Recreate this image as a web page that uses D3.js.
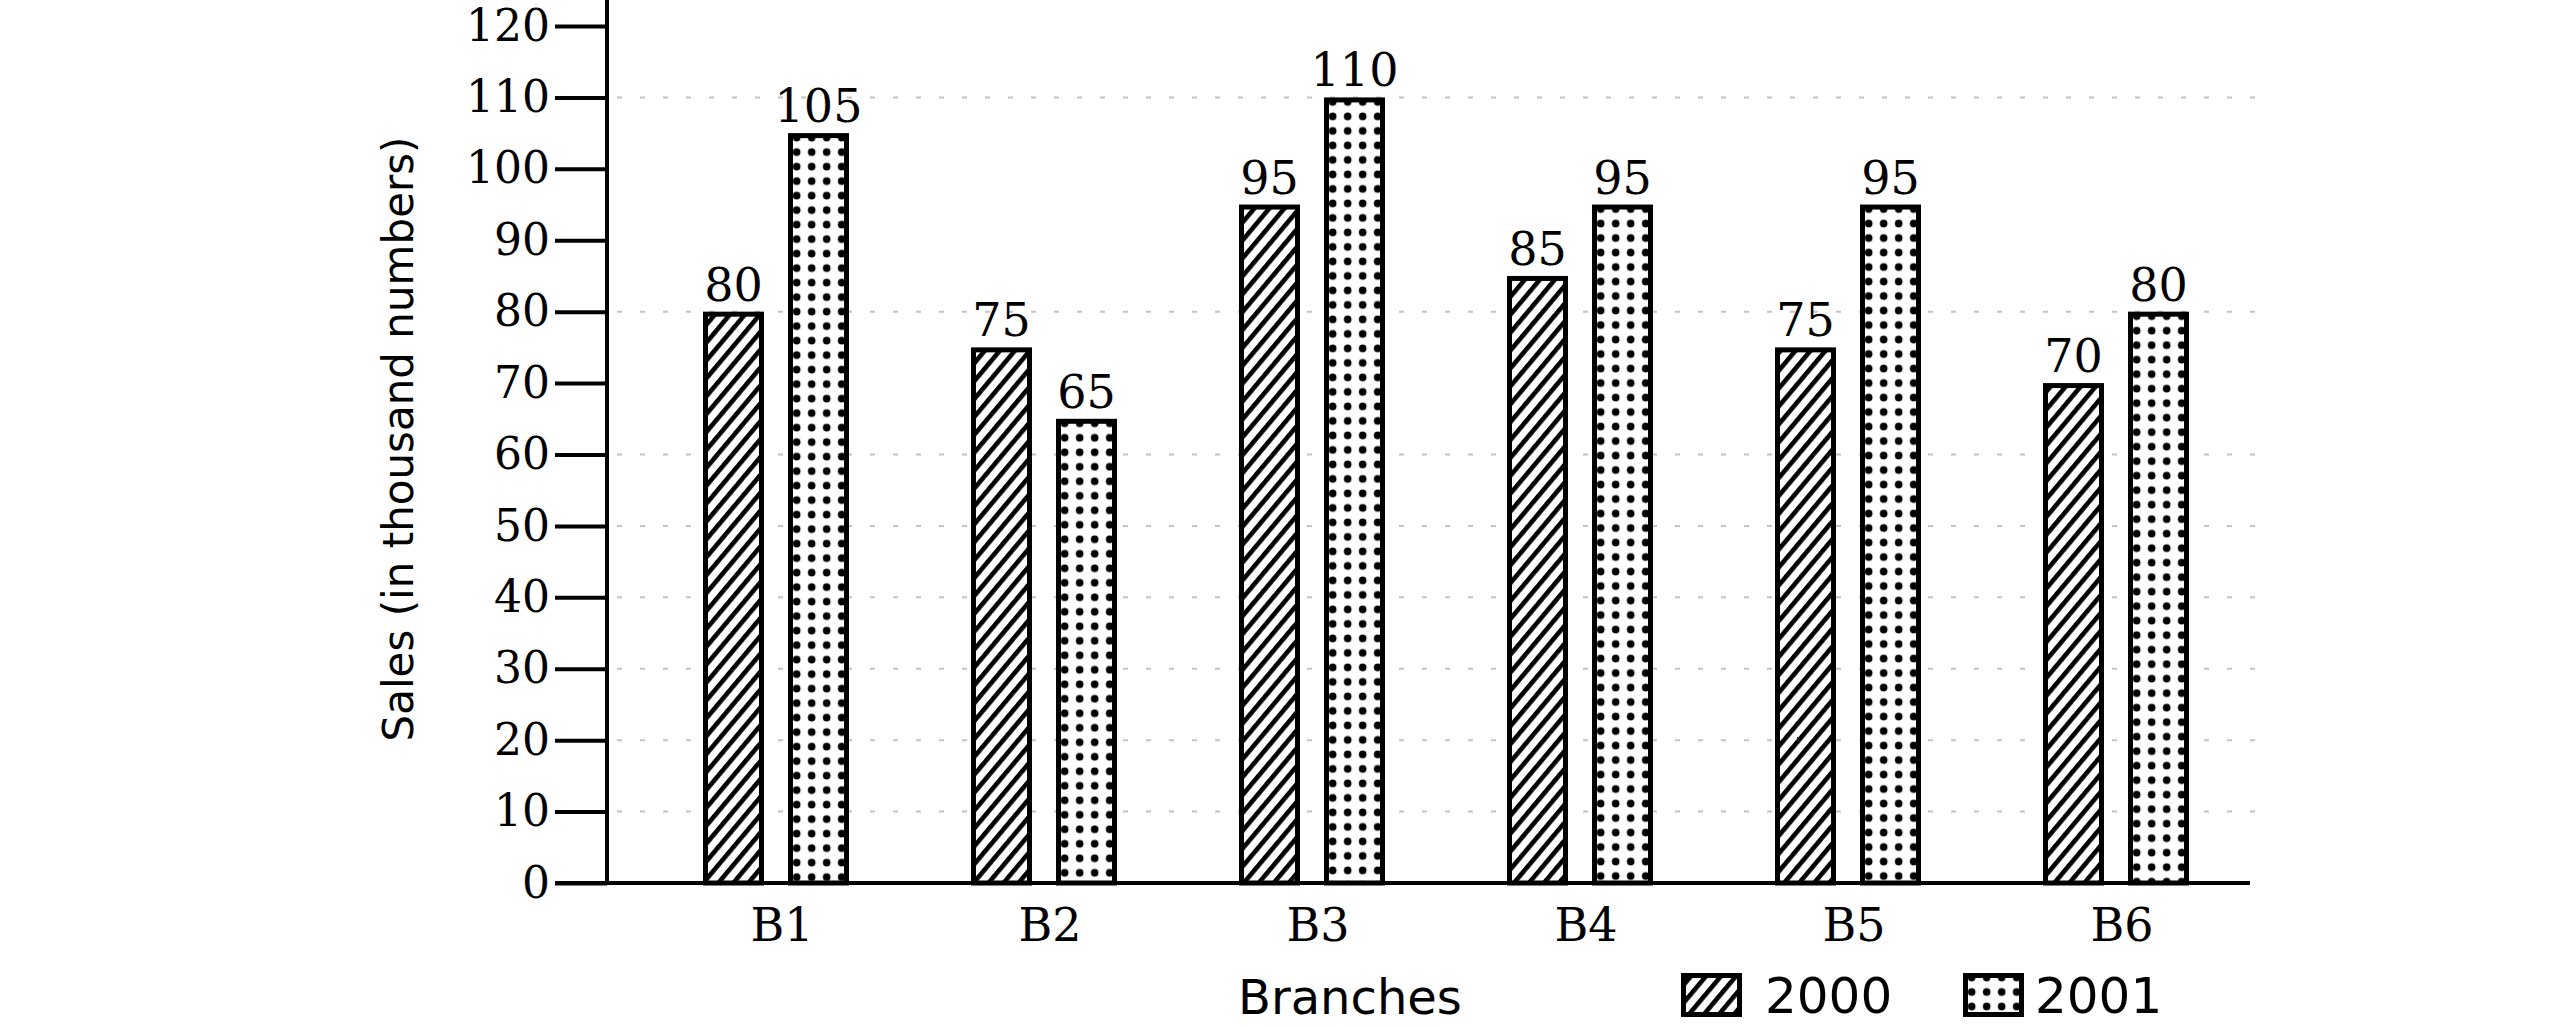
<!DOCTYPE html>
<html><head><meta charset="utf-8">
<script src="https://cdn.jsdelivr.net/npm/d3@7"></script>
<style>html,body{margin:0;padding:0;background:#fff;} svg{display:block;}</style>
</head><body>
<svg id="chart" width="2560" height="1027"></svg>
<script>
// ---- data ----
const branches = ["B1", "B2", "B3", "B4", "B5", "B6"];
const years = ["2000", "2001"];
const sales2000 = [80, 75, 95, 85, 75, 70];
const sales2001 = [105, 65, 110, 95, 95, 80];
const yTicks = [0, 10, 20, 30, 40, 50, 60, 70, 80, 90, 100, 110, 120];
const gridValues = [110, 80, 60, 50, 40, 30, 20, 10];
const yAxisTitle = "Sales (in thousand numbers)";
const xAxisTitle = "Branches";

// ---- layout ----
const W = 2560, H = 1027;
const axisX = 607, baseY = 883, topY = 26, plotRight = 2250;
const numFont = "'DejaVu Serif', 'Liberation Serif', serif";
const sansFont = "'DejaVu Sans', 'Liberation Sans', sans-serif";

const svg = d3.select("#chart");
svg.append("rect").attr("width", W).attr("height", H).attr("fill", "#fff");

const y = d3.scaleLinear().domain([0, 120]).range([baseY, topY]);
const x0 = d3.scaleBand().domain(branches).range([642, plotRight]).paddingInner(0).paddingOuter(0);
const groupW = 146;
const x1 = d3.scaleBand().domain(years).range([0, groupW]).paddingInner(24 / 85).paddingOuter(0);
const groupOff = (x0.bandwidth() - groupW) / 2;

const defs = svg.append("defs");
// hatch pattern for 2000
const hatch = defs.append("pattern").attr("id", "hatch")
  .attr("patternUnits", "userSpaceOnUse").attr("width", 11.5).attr("height", 11.5)
  .attr("patternTransform", "rotate(40)");
hatch.append("rect").attr("width", 11.5).attr("height", 11.5).attr("fill", "#fff");
hatch.append("rect").attr("width", 4.6).attr("height", 11.5).attr("fill", "#000");

function dotPattern(id, left, top) {
  const p = defs.append("pattern").attr("id", id)
    .attr("patternUnits", "userSpaceOnUse").attr("width", 15).attr("height", 14.5)
    .attr("x", left + 8.7 - 7.5).attr("y", top + 4.5 - 7.25);
  p.append("rect").attr("width", 15).attr("height", 14.5).attr("fill", "#fff");
  p.append("circle").attr("cx", 7.5).attr("cy", 7.25).attr("r", 3.8).attr("fill", "#000");
}

// faint scan gridlines
svg.append("g").selectAll("line").data(gridValues).join("line")
  .attr("x1", axisX + 10).attr("x2", plotRight + 12)
  .attr("y1", d => y(d)).attr("y2", d => y(d))
  .attr("stroke", "#7a6a6a").attr("stroke-width", 2)
  .attr("stroke-dasharray", "5 18").attr("opacity", 0.4);

// bars
const series = [
  { key: "2000", values: sales2000 },
  { key: "2001", values: sales2001 }
];
const bw = x1.bandwidth();
const sw = 5;
const barsG = svg.append("g");
series.forEach(s => {
  s.values.forEach((v, i) => {
    const left = x0(branches[i]) + groupOff + x1(s.key);
    const top = y(v);
    let fill = "url(#hatch)";
    if (s.key === "2001") {
      const id = "dots-" + i;
      dotPattern(id, left, top);
      fill = "url(#" + id + ")";
    }
    barsG.append("rect")
      .attr("x", left + sw / 2).attr("y", top + sw / 2)
      .attr("width", bw - sw).attr("height", y(0) - top - sw / 2)
      .attr("fill", fill).attr("stroke", "#000").attr("stroke-width", sw);
    barsG.append("text")
      .attr("x", left + bw / 2).attr("y", top - 11)
      .attr("text-anchor", "middle")
      .attr("font-family", numFont).attr("font-size", 46).attr("fill", "#000")
      .text(v);
  });
});

// y axis
const yAxis = d3.axisLeft(y).tickValues(yTicks).tickSize(52).tickPadding(5).tickSizeOuter(0);
const yg = svg.append("g").attr("transform", `translate(${axisX},0)`).call(yAxis);
yg.select(".domain").remove();
yg.selectAll(".tick line").attr("stroke", "#000").attr("stroke-width", 4);
yg.selectAll(".tick text").attr("font-family", numFont).attr("font-size", 44).attr("fill", "#000");
svg.append("line").attr("x1", axisX).attr("x2", axisX).attr("y1", 0).attr("y2", baseY + 2)
  .attr("stroke", "#000").attr("stroke-width", 4);

// x axis
const xAxis = d3.axisBottom(x0).tickSize(0).tickPadding(25);
const xg = svg.append("g").attr("transform", `translate(0,${baseY})`).call(xAxis);
xg.select(".domain").remove();
xg.selectAll(".tick text").attr("font-family", numFont).attr("font-size", 46).attr("fill", "#000")
  .attr("dx", 6);
svg.append("line").attr("x1", axisX - 52).attr("x2", plotRight).attr("y1", baseY).attr("y2", baseY)
  .attr("stroke", "#000").attr("stroke-width", 4);

// axis titles
svg.append("text").attr("transform", `translate(413,439) rotate(-90)`)
  .attr("text-anchor", "middle").attr("font-family", sansFont).attr("font-size", 42)
  .attr("fill", "#000").text(yAxisTitle);
svg.append("text").attr("x", 1238).attr("y", 1014)
  .attr("font-family", sansFont).attr("font-size", 48).attr("fill", "#000").text(xAxisTitle);

// legend
const legendItems = [
  { key: years[0], boxX: 1681, textX: 1765 },
  { key: years[1], boxX: 1963, textX: 2035 }
];
const lg = svg.append("g");
legendItems.forEach((d, i) => {
  const bx = d.boxX, by = 973, lw = 61, lh = 44;
  let fill = "url(#hatch)";
  if (i === 1) { dotPattern("dots-legend", bx, by); fill = "url(#dots-legend)"; }
  lg.append("rect").attr("x", bx + 2.5).attr("y", by + 2.5).attr("width", lw - 5).attr("height", lh - 5)
    .attr("fill", fill).attr("stroke", "#000").attr("stroke-width", 5);
  lg.append("text").attr("x", d.textX).attr("y", 1013)
    .attr("font-family", sansFont).attr("font-size", 50).attr("fill", "#000").text(d.key);
});
</script>
</body></html>
